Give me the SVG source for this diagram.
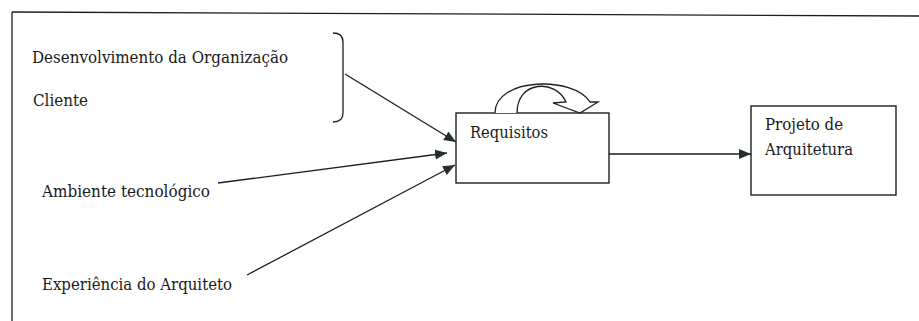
<svg xmlns="http://www.w3.org/2000/svg" width="919" height="321" viewBox="0 0 919 321">
  <style>
    .ln { fill: none; stroke: #1e1e1e; stroke-width: 1.3; }
    .box { fill: #ffffff; stroke: #1e1e1e; stroke-width: 1.4; }
    .lbl { font-family: "DejaVu Serif", "Liberation Serif", "Times New Roman", serif; font-size: 16.8px; fill: #1a1a1a; }
  </style>
  <defs>
    <marker id="arrow" markerUnits="userSpaceOnUse" markerWidth="13" markerHeight="11" refX="12" refY="5" orient="auto">
      <path d="M0,0 L12,5 L0,10 z" fill="#243030"/>
    </marker>
  </defs>
  <rect width="919" height="321" fill="#ffffff"/>

  <!-- outer frame (top and left edges) -->
  <g id="frame">
    <path class="ln" d="M12,12 L919,16"/>
    <path class="ln" d="M12,12 L12,321"/>
  </g>

  <!-- source labels -->
  <g id="org">
    <text class="lbl" x="32" y="63" textLength="256" lengthAdjust="spacingAndGlyphs">Desenvolvimento da Organização</text>
    <text class="lbl" x="33" y="106" textLength="55" lengthAdjust="spacingAndGlyphs">Cliente</text>
    <path class="ln" d="M333,33 Q343,33 343,42 L343,113 Q343,122 333,122"/>
  </g>
  <g id="ambiente">
    <text class="lbl" x="42" y="197" textLength="168" lengthAdjust="spacingAndGlyphs">Ambiente tecnológico</text>
  </g>
  <g id="experiencia">
    <text class="lbl" x="42" y="290" textLength="190" lengthAdjust="spacingAndGlyphs">Experiência do Arquiteto</text>
  </g>

  <!-- Requisitos node with its self-loop arrow -->
  <g id="requisitos">
    <rect class="box" x="456" y="113" width="153" height="70"/>
    <text class="lbl" x="470" y="138" textLength="78" lengthAdjust="spacingAndGlyphs">Requisitos</text>
    <path fill="#ffffff" stroke="#1e1e1e" stroke-width="1.3"
          d="M495,113 C495,77 574,76 590,102 L598,102 L580,113 L553,103 L566,102 C556,79 517,80 517,113"/>
  </g>

  <!-- Projeto de Arquitetura node -->
  <g id="projeto">
    <rect class="box" x="751" y="106" width="145" height="89"/>
    <text class="lbl" x="765" y="130" textLength="78" lengthAdjust="spacingAndGlyphs">Projeto de</text>
    <text class="lbl" x="765" y="155" textLength="88" lengthAdjust="spacingAndGlyphs">Arquitetura</text>
  </g>

  <!-- connectors -->
  <g id="connectors">
    <path class="ln" d="M345,74 L456,142" marker-end="url(#arrow)"/>
    <path class="ln" d="M218,183 L447,153" marker-end="url(#arrow)"/>
    <path class="ln" d="M247,275 L455,165" marker-end="url(#arrow)"/>
    <path class="ln" d="M609,154 L751,154" marker-end="url(#arrow)"/>
  </g>
</svg>
